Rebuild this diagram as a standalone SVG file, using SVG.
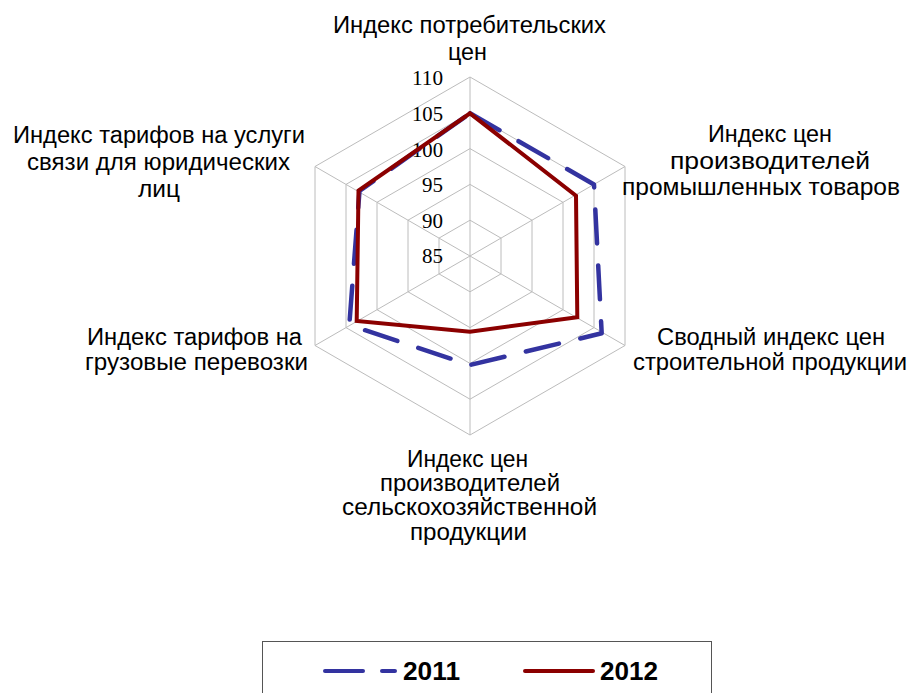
<svg xmlns="http://www.w3.org/2000/svg" width="911" height="693" viewBox="0 0 911 693">
<style>
.grid{fill:none;stroke:#bcbcbc;stroke-width:1}
.lbl{font-family:"Liberation Sans",Arial,sans-serif;font-size:23px;fill:#000;text-anchor:middle}
.tick{font-family:"Liberation Serif","Times New Roman",serif;font-size:21px;fill:#000;text-anchor:end}
.s2011{fill:none;stroke:#3333a0;stroke-width:4.5;stroke-dasharray:34 22;stroke-linecap:round;stroke-linejoin:round}
.s2012{fill:none;stroke:#8b0000;stroke-width:4;stroke-linejoin:miter}
.leg{font-family:"Liberation Sans",Arial,sans-serif;font-size:25px;font-weight:bold;fill:#000}
</style>
<rect width="911" height="693" fill="#fff"/>
<g id="grid">
<polygon class="grid" points="470,77 625,166.5 625,345.5 470,435 315,345.5 315,166.5"/>
<polygon class="grid" points="470,112.8 594,184.4 594,327.6 470,399.2 346,327.6 346,184.4"/>
<polygon class="grid" points="470,148.6 563,202.3 563,309.7 470,363.4 377,309.7 377,202.3"/>
<polygon class="grid" points="470,184.4 532,220.2 532,291.8 470,327.6 408,291.8 408,220.2"/>
<polygon class="grid" points="470,220.2 501,238.1 501,273.9 470,291.8 439,273.9 439,238.1"/>
<path class="grid" d="M470,256L470,77M470,256L625,166.5M470,256L625,345.5M470,256L470,435M470,256L315,345.5M470,256L315,166.5"/>
</g>
<g id="ticks">
<text class="tick" x="443" y="85" textLength="31" lengthAdjust="spacingAndGlyphs">110</text>
<text class="tick" x="443" y="121" textLength="31" lengthAdjust="spacingAndGlyphs">105</text>
<text class="tick" x="443" y="157" textLength="31" lengthAdjust="spacingAndGlyphs">100</text>
<text class="tick" x="443" y="192" textLength="21" lengthAdjust="spacingAndGlyphs">95</text>
<text class="tick" x="443" y="228" textLength="21" lengthAdjust="spacingAndGlyphs">90</text>
<text class="tick" x="443" y="263" textLength="21" lengthAdjust="spacingAndGlyphs">85</text>
</g>
<g id="connectors">
<polygon id="series-2011" class="s2011" points="470,113.3 594,184.5 601.7,333.3 470,365 349.3,325 359.5,191"/>
<polygon id="series-2012" class="s2012" points="470,113.3 576,195.7 577.3,317.3 470,331.7 356.7,321 358.5,190.5"/>
</g>
<g id="axis-top">
<text class="lbl" x="469.5" y="33" textLength="273" lengthAdjust="spacingAndGlyphs">Индекс потребительских</text>
<text class="lbl" x="467.5" y="60" textLength="39" lengthAdjust="spacingAndGlyphs">цен</text>
</g>
<g id="axis-upper-right">
<text class="lbl" x="770" y="142" textLength="124" lengthAdjust="spacingAndGlyphs">Индекс цен</text>
<text class="lbl" x="770" y="168.5" textLength="200" lengthAdjust="spacingAndGlyphs">производителей</text>
<text class="lbl" x="761" y="195" textLength="278" lengthAdjust="spacingAndGlyphs">промышленных товаров</text>
</g>
<g id="axis-lower-right">
<text class="lbl" x="771" y="345" textLength="228" lengthAdjust="spacingAndGlyphs">Сводный индекс цен</text>
<text class="lbl" x="770" y="370" textLength="274" lengthAdjust="spacingAndGlyphs">строительной продукции</text>
</g>
<g id="axis-bottom">
<text class="lbl" x="467.5" y="467" textLength="121" lengthAdjust="spacingAndGlyphs">Индекс цен</text>
<text class="lbl" x="470" y="491" textLength="180" lengthAdjust="spacingAndGlyphs">производителей</text>
<text class="lbl" x="469.5" y="515" textLength="255" lengthAdjust="spacingAndGlyphs">сельскохозяйственной</text>
<text class="lbl" x="468.5" y="540" textLength="117" lengthAdjust="spacingAndGlyphs">продукции</text>
</g>
<g id="axis-lower-left">
<text class="lbl" x="194.5" y="345" textLength="215" lengthAdjust="spacingAndGlyphs">Индекс тарифов на</text>
<text class="lbl" x="196.5" y="370" textLength="223" lengthAdjust="spacingAndGlyphs">грузовые перевозки</text>
</g>
<g id="axis-upper-left">
<text class="lbl" x="159" y="143" textLength="292" lengthAdjust="spacingAndGlyphs">Индекс тарифов на услуги</text>
<text class="lbl" x="158.5" y="170" textLength="263" lengthAdjust="spacingAndGlyphs">связи для юридических</text>
<text class="lbl" x="159" y="197" textLength="42" lengthAdjust="spacingAndGlyphs">лиц</text>
</g>
<g id="legend">
<rect x="262.5" y="641.5" width="449" height="60" fill="none" stroke="#555" stroke-width="1"/>
<line x1="325" y1="671" x2="363" y2="671" stroke="#3333a0" stroke-width="4" stroke-linecap="round"/>
<line x1="382" y1="671" x2="395" y2="671" stroke="#3333a0" stroke-width="4" stroke-linecap="round"/>
<text class="leg" x="403" y="680" textLength="57" lengthAdjust="spacingAndGlyphs">2011</text>
<line x1="525" y1="671" x2="593" y2="671" stroke="#8b0000" stroke-width="4" stroke-linecap="round"/>
<text class="leg" x="600" y="680" textLength="58" lengthAdjust="spacingAndGlyphs">2012</text>
</g>
</svg>
